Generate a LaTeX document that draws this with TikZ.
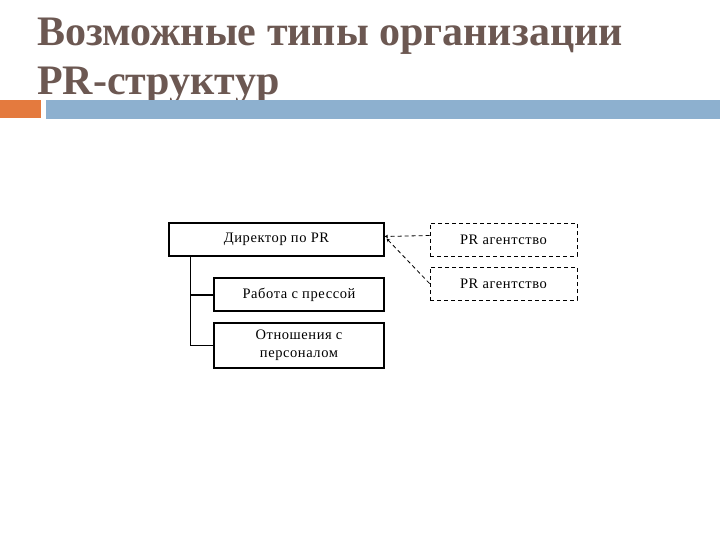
\documentclass[tikz,border=0pt]{standalone}
\usepackage{fontspec}
\setmainfont{Liberation Serif}
\newfontfamily\boxfont[LetterSpace=4]{Liberation Serif}
\usetikzlibrary{arrows.meta}
\definecolor{titlec}{RGB}{108,88,82}
\definecolor{orangebar}{RGB}{228,122,62}
\definecolor{bluebar}{RGB}{141,176,207}
\tikzset{
  solidbox/.style={draw=black, line width=1.1pt, minimum height=33pt, align=center, inner sep=0pt, font=\boxfont\fontsize{14.5}{18}\selectfont},
  dashbox/.style={draw=black, line width=0.9pt, dash pattern=on 4pt off 3pt, minimum width=147pt, minimum height=33pt, inner sep=0pt, font=\boxfont\fontsize{14.5}{18}\selectfont},
  conn/.style={line width=1pt},
  dconn/.style={line width=0.8pt, dash pattern=on 4pt off 3pt, -{Stealth[length=3.5pt,width=3.5pt]}},
  titletext/.style={anchor=base west, inner sep=0pt, text=titlec, font=\fontsize{42}{48}\bfseries\selectfont}
}
\begin{document}
\begin{tikzpicture}[x=1pt,y=-1pt]
\useasboundingbox (0,0) rectangle (720,540);
% title
\node[titletext] (t1) at (37,46) {Возможные типы организации};
\node[titletext] (t2) at (37,95) {PR-структур};
% bars
\fill[orangebar] (0,100) rectangle (41,118);
\fill[bluebar] (46,100) rectangle (720,119);
% boxes
\node[solidbox, minimum width=215pt] (dir) at (276.5,239.5) {Директор по PR};
\node[solidbox, minimum width=170pt] (press) at (299,294.5) {Работа с прессой};
\node[solidbox, minimum width=170pt, minimum height=45pt] (pers) at (299,345.5) {Отношения с\\персоналом};
\node[dashbox] (a1) at (503.5,239.5) {PR агентство};
\node[dashbox] (a2) at (503.5,283.5) {PR агентство};
% tree
\coordinate (trunk) at ([xshift=22pt]dir.south west);
\draw[conn] (trunk) |- (pers.west);
\draw[line width=2pt] (trunk |- press.west) -- (press.west);
% dashed connectors
\coordinate (dtip) at ([yshift=3pt]dir.east);
\draw[dconn] ([yshift=4pt]a1.west) -- (dtip);
\draw[dconn] (a2.west) -- ([xshift=2pt,yshift=1pt]dir.east);
\end{tikzpicture}
\end{document}
